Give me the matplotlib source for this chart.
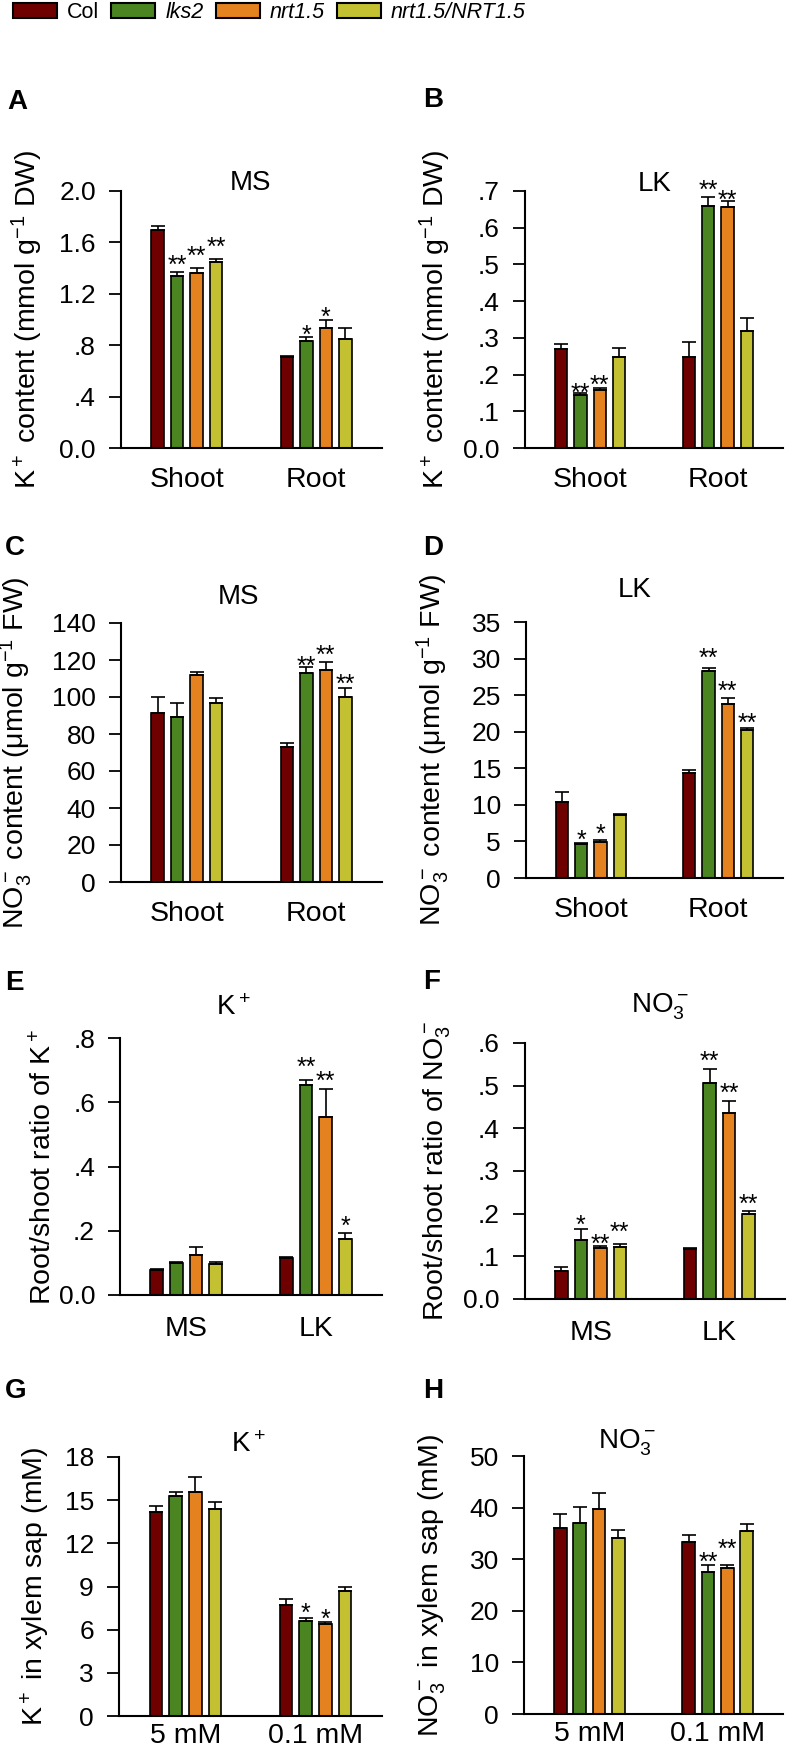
import numpy as np
import matplotlib
matplotlib.use("Agg")
import matplotlib.pyplot as plt
from matplotlib.patches import Patch
from matplotlib import font_manager

# ---------------- data ----------------
genotypes = ["Col", "lks2", "nrt1.5", "nrt1.5/NRT1.5"]
genotype_italic = [False, True, True, True]
colors = ["#6E0000", "#4A8522", "#E4821F", "#C3C132"]

tissue_groups = ["Shoot", "Root"]
medium_groups = ["MS", "LK"]
conc_groups = ["5 mM", "0.1 mM"]

# rows = x groups, columns = genotypes (Col, lks2, nrt1.5, nrt1.5/NRT1.5)
A_mean = [[1.70, 1.34, 1.36, 1.45], [0.71, 0.83, 0.93, 0.85]]
A_err = [[0.03, 0.03, 0.04, 0.02], [0.005, 0.03, 0.065, 0.08]]
A_sig = [["", "**", "**", "**"], ["", "*", "*", ""]]

B_mean = [[0.270, 0.145, 0.158, 0.248], [0.248, 0.660, 0.656, 0.318]]
B_err = [[0.013, 0.006, 0.005, 0.024], [0.041, 0.024, 0.017, 0.036]]
B_sig = [["", "**", "**", ""], ["", "**", "**", ""]]

C_mean = [[91.4, 89.2, 112.0, 96.8], [73.0, 113.0, 114.6, 100.0]]
C_err = [[8.6, 7.6, 1.5, 2.5], [2.0, 3.0, 4.4, 5.0]]
C_sig = [["", "", "", ""], ["", "**", "**", "**"]]

D_mean = [[10.4, 4.6, 4.9, 8.6], [14.3, 28.3, 23.8, 20.2]]
D_err = [[1.4, 0.2, 0.3, 0.2], [0.4, 0.4, 0.8, 0.3]]
D_sig = [["", "*", "*", ""], ["", "**", "**", "**"]]

E_mean = [[0.078, 0.100, 0.125, 0.095], [0.115, 0.654, 0.555, 0.175]]
E_err = [[0.003, 0.003, 0.025, 0.007], [0.002, 0.016, 0.087, 0.018]]
E_sig = [["", "", "", ""], ["", "**", "**", "*"]]

F_mean = [[0.066, 0.138, 0.120, 0.123], [0.117, 0.506, 0.435, 0.200]]
F_err = [[0.010, 0.025, 0.004, 0.006], [0.002, 0.032, 0.029, 0.007]]
F_sig = [["", "*", "**", "**"], ["", "**", "**", "**"]]

G_mean = [[14.2, 15.3, 15.6, 14.4], [7.7, 6.6, 6.4, 8.7]]
G_err = [[0.4, 0.3, 1.0, 0.5], [0.4, 0.2, 0.1, 0.3]]
G_sig = [["", "", "", ""], ["", "*", "*", ""]]

H_mean = [[36.0, 37.0, 39.7, 34.1], [33.3, 27.5, 28.3, 35.5]]
H_err = [[2.8, 3.1, 3.1, 1.6], [1.4, 1.4, 0.6, 1.3]]
H_sig = [["", "", "", ""], ["", "**", "**", ""]]

A_ticks = [0.0, 0.4, 0.8, 1.2, 1.6, 2.0]
A_ticklabels = ["0.0", ".4", ".8", "1.2", "1.6", "2.0"]
B_ticks = [0.0, 0.1, 0.2, 0.3, 0.4, 0.5, 0.6, 0.7]
B_ticklabels = ["0.0", ".1", ".2", ".3", ".4", ".5", ".6", ".7"]
C_ticks = [0, 20, 40, 60, 80, 100, 120, 140]
C_ticklabels = ["0", "20", "40", "60", "80", "100", "120", "140"]
D_ticks = [0, 5, 10, 15, 20, 25, 30, 35]
D_ticklabels = ["0", "5", "10", "15", "20", "25", "30", "35"]
E_ticks = [0.0, 0.2, 0.4, 0.6, 0.8]
E_ticklabels = ["0.0", ".2", ".4", ".6", ".8"]
F_ticks = [0.0, 0.1, 0.2, 0.3, 0.4, 0.5, 0.6]
F_ticklabels = ["0.0", ".1", ".2", ".3", ".4", ".5", ".6"]
G_ticks = [0, 3, 6, 9, 12, 15, 18]
G_ticklabels = ["0", "3", "6", "9", "12", "15", "18"]
H_ticks = [0, 10, 20, 30, 40, 50]
H_ticklabels = ["0", "10", "20", "30", "40", "50"]

# ---------------- layout (styling, not data) ----------------
# gap in pixels between error-bar cap and centre of the significance stars
A_gap = [[0, 12, 17, 17], [0, 8, 8, 0]]
B_gap = [[0, 5, 8, 0], [0, 12, 6, 0]]
C_gap = [[0, 0, 0, 0], [0, 7, 12, 9]]
D_gap = [[0, 8, 11, 0], [0, 15, 12, 10]]
E_gap = [[0, 0, 0, 0], [0, 18, 13, 12]]
F_gap = [[0, 10, 7, 17], [0, 14, 13, 12]]
G_gap = [[0, 0, 0, 0], [0, 10, 9, 0]]
H_gap = [[0, 0, 0, 0], [0, 8, 21, 0]]

# ---------------- fonts ----------------
names = {f.name for f in font_manager.fontManager.ttflist}
base = "Liberation Sans" if "Liberation Sans" in names else "DejaVu Sans"
has_narrow = "Liberation Sans Narrow" in names
plt.rcParams["font.family"] = [base, "DejaVu Sans"]
plt.rcParams["mathtext.fontset"] = "custom"
plt.rcParams["mathtext.rm"] = base
plt.rcParams["mathtext.it"] = base + ":italic"
plt.rcParams["mathtext.default"] = "regular"

W, H = 789, 1753
DPI = 100
PT = 72.0 / DPI
fig = plt.figure(figsize=(W / DPI, H / DPI), dpi=DPI)
fig.patch.set_facecolor("white")

YTICK_FS = 19
XTICK_FS = 20.5
YLABEL_FS = 20.5
TITLE_FS = 20
LETTER_FS = 20
STAR_FS = 18
BAR_W = 0.097
PITCH = 0.151
OFFS = [(-1.5 + i) * PITCH for i in range(4)]


def px_axes(l, r, t, b):
    return fig.add_axes([l / W, 1 - b / H, (r - l) / W, (b - t) / H])


def fig_text(x, y, s, **kw):
    fig.text(x / W, 1 - y / H, s, ha="center", va="center", **kw)


def panel(box, means, errs, sigs, gaps, groups, ymax, ticks, ticklabels, ylabel,
          ylabel_right_px, xpad, title, title_xy, letter, letter_xy):
    l, r, t, b = box
    ax = px_axes(l, r, t, b)
    x = np.arange(len(groups))
    for g in range(4):
        vals = [means[k][g] for k in range(len(groups))]
        er = [errs[k][g] for k in range(len(groups))]
        ax.bar(x + OFFS[g], vals, BAR_W, color=colors[g], edgecolor="black",
               linewidth=1.2, zorder=2)
        ax.errorbar(x + OFFS[g], vals, yerr=[np.zeros(len(vals)), er], fmt="none",
                    ecolor="black", elinewidth=1.2, capsize=5.2, capthick=1.2,
                    zorder=3)
        for k in range(len(groups)):
            s = sigs[k][g]
            if s:
                dy = (gaps[k][g] - 13) * PT
                ax.annotate(s, (x[k] + OFFS[g], vals[k] + er[k]), xytext=(0, dy),
                            textcoords="offset points", ha="center", va="baseline",
                            fontsize=STAR_FS, annotation_clip=False)
    ax.set_xlim(-0.51, 1.51)
    ax.set_ylim(0, ymax)
    ax.set_yticks(ticks)
    ax.set_yticklabels(ticklabels)
    ax.set_xticks(x)
    ax.set_xticklabels(groups)
    for sp in ["top", "right"]:
        ax.spines[sp].set_visible(False)
    for sp in ["left", "bottom"]:
        ax.spines[sp].set_linewidth(1.5)
    ax.tick_params(axis="y", direction="out", length=9, width=1.3,
                   labelsize=YTICK_FS, pad=9)
    ax.tick_params(axis="x", length=0, labelsize=XTICK_FS, pad=xpad)
    ax.set_ylabel(ylabel, fontsize=YLABEL_FS)
    ax.yaxis.set_label_coords((ylabel_right_px - l) / (r - l), 0.5)
    fig_text(title_xy[0], title_xy[1], title, fontsize=TITLE_FS)
    fig_text(letter_xy[0], letter_xy[1], letter, fontsize=LETTER_FS,
             fontweight="bold")
    return ax


panel((121, 382, 191, 448), A_mean, A_err, A_sig, A_gap, tissue_groups, 2.0,
      A_ticks, A_ticklabels, r"K$^+$ content (mmol g$^{-1}$ DW)", 45, 14,
      "MS", (250, 183), "A", (17, 102))
panel((525, 783, 191, 448), B_mean, B_err, B_sig, B_gap, tissue_groups, 0.7,
      B_ticks, B_ticklabels, r"K$^+$ content (mmol g$^{-1}$ DW)", 453, 14,
      "LK", (655, 184), "B", (433, 100))
panel((121, 382, 623, 882), C_mean, C_err, C_sig, C_gap, tissue_groups, 140,
      C_ticks, C_ticklabels, "NO$_3^-$ content (\u03bcmol g$^{-1}$ FW)", 34, 14,
      "MS", (238, 597), "C", (15, 548))
panel((526, 783, 622, 878), D_mean, D_err, D_sig, D_gap, tissue_groups, 35,
      D_ticks, D_ticklabels, "NO$_3^-$ content (\u03bcmol g$^{-1}$ FW)", 451, 14,
      "LK", (635, 590), "D", (433, 548))
panel((120, 382, 1038, 1295), E_mean, E_err, E_sig, E_gap, medium_groups, 0.8,
      E_ticks, E_ticklabels, r"Root/shoot ratio of K$^+$", 57, 15,
      r"K$^+$", (233, 1008), "E", (14, 983))
panel((525, 785, 1043, 1299), F_mean, F_err, F_sig, F_gap, medium_groups, 0.6,
      F_ticks, F_ticklabels, r"Root/shoot ratio of NO$_3^-$", 453, 15,
      r"NO$_3^-$", (660, 1007), "F", (432, 982))
panel((119, 382, 1457, 1716), G_mean, G_err, G_sig, G_gap, conc_groups, 18,
      G_ticks, G_ticklabels, r"K$^+$ in xylem sap (mM)", 52, 5,
      r"K$^+$", (248, 1445), "G", (16, 1391))
panel((524, 783, 1456, 1714), H_mean, H_err, H_sig, H_gap, conc_groups, 50,
      H_ticks, H_ticklabels, r"NO$_3^-$ in xylem sap (mM)", 448, 5,
      r"NO$_3^-$", (627, 1443), "H", (433, 1391))

# ---------------- legend ----------------
if has_narrow:
    leg_family, LEG_FS = ["Liberation Sans Narrow", base], 19
else:
    leg_family, LEG_FS = [base], 15.5
fs_px = LEG_FS * DPI / 72.0
handles = [Patch(facecolor=c, edgecolor="black", linewidth=1.5) for c in colors]
leg = fig.legend(handles, genotypes, loc="center left",
                 bbox_to_anchor=(13 / W, 1 - 13 / H), ncol=4, frameon=False,
                 prop={"family": leg_family, "size": LEG_FS},
                 handlelength=44 / fs_px, handleheight=15 / fs_px,
                 handletextpad=10 / fs_px, columnspacing=12 / fs_px,
                 borderpad=0, borderaxespad=0)
for txt, it in zip(leg.get_texts(), genotype_italic):
    if it:
        txt.set_fontstyle("italic")

fig.savefig("out.png", dpi=DPI, facecolor="white")
